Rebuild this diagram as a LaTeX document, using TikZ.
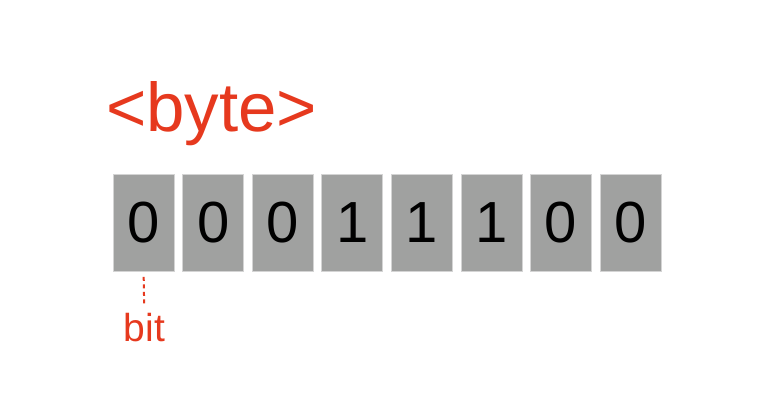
\documentclass[tikz,border=0pt]{standalone}
\usepackage{fontspec}
\setmainfont{Liberation Sans}
\definecolor{bytered}{RGB}{230,57,30}
\definecolor{bitgray}{RGB}{160,161,160}
\definecolor{bitedge}{RGB}{212,212,212}
\begin{document}
\begin{tikzpicture}[x=1pt,y=-1pt,
  bitbox/.style={fill=bitgray,draw=bitedge,line width=0.8pt,minimum width=61pt,minimum height=97pt,inner sep=0pt,font=\fontsize{58}{58}\selectfont,text=black},
  redlabel/.style={text=bytered,inner sep=0pt}]
\useasboundingbox[fill=white] (0,0) rectangle (760,419);
\foreach \d [count=\i from 0] in {0,0,0,1,1,1,0,0}{
  \node[bitbox] (b\i) at ({143.7+69.55*\i},223) {\d};
}
\node[redlabel,anchor=base west,font=\fontsize{69}{69}\selectfont] (byte) at (106,131.7) {<byte>};
\node[redlabel,anchor=base,font=\fontsize{39}{39}\selectfont] (bit) at (144.3,341.7) {bit};
\draw[bytered,line width=2pt,dash pattern=on 4pt off 3.5pt,shorten >=6.5pt] ([yshift=-5pt]b0.south) -- (bit.north);
\end{tikzpicture}
\end{document}
